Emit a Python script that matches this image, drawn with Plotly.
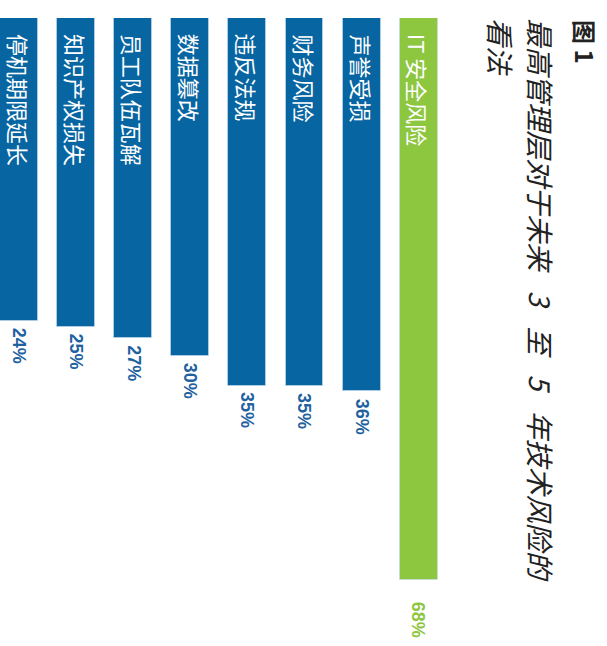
import plotly.graph_objects as go

# Data
categories = ['停机期限延长', '知识产权损失', '员工队伍瓦解', '数据篡改',
              '违反法规', '财务风险', '声誉受损', 'IT 安全风险']
values = [24, 25, 27, 30, 35, 35, 36, 68]
value_labels = ['24%', '25%', '27%', '30%', '35%', '35%', '36%', '68%']
fig_label = '图 1'
title_line1 = '最高管理层对于未来 3 至 5 年技术风险的'
title_line2 = '看法'

# Styling
BLUE = '#0765A2'
GREEN = '#8DC63F'
LABEL_BLUE = '#1F62A0'
W, H = 607, 646
TOP = 18
OFFSET = 27.5          # visual base offset of the bars (in value units)
PX_PER_UNIT = 5.88
y_bottom = -OFFSET + (H - TOP) / PX_PER_UNIT
PX_PER_CAT = 57.1
x_left = -19 / PX_PER_CAT
x_right = x_left + W / PX_PER_CAT

colors = [GREEN if c.startswith('IT') else BLUE for c in categories]
label_colors = [GREEN if c.startswith('IT') else LABEL_BLUE for c in categories]

fig = go.Figure()
fig.add_trace(go.Bar(
    x=categories,
    y=[v + OFFSET for v in values],
    base=[-OFFSET] * len(values),
    width=0.665,
    marker=dict(color=colors, line=dict(color='rgba(200,220,240,0.6)', width=1)),
    hoverinfo='skip',
    showlegend=False,
))

annotations = []
# category labels inside bars (rotated)
for c in categories:
    annotations.append(dict(
        x=c, y=-OFFSET, xref='x', yref='y', text=c, showarrow=False,
        textangle=90, xanchor='center', yanchor='top', yshift=-14,
        font=dict(family='Noto Sans CJK SC', size=22, color='white'),
    ))
# value labels below bars (rotated)
for c, v, t, col in zip(categories, values, value_labels, label_colors):
    annotations.append(dict(
        x=c, y=v, xref='x', yref='y', text=t, showarrow=False,
        textangle=90, xanchor='center', yanchor='top',
        yshift=-20 if col == GREEN else -5,
        font=dict(family='Liberation Sans', size=18, color=col, weight='bold'),
    ))

def py(p):
    return (H - p) / (H - TOP)

def wide_spaces(s):
    return s.replace(' ', '\u2002 ')

annotations.append(dict(
    x=586 / W, y=py(18), xref='paper', yref='paper', text=fig_label,
    showarrow=False, textangle=90, xanchor='center', yanchor='top',
    font=dict(family='Noto Sans CJK SC', size=24, color='#222222', weight='bold'),
))
annotations.append(dict(
    x=540 / W, y=py(16), xref='paper', yref='paper', text=wide_spaces(title_line1),
    showarrow=False, textangle=90, xanchor='center', yanchor='top',
    font=dict(family='Noto Sans CJK SC', size=28, color='#222222', style='italic'),
))
annotations.append(dict(
    x=501 / W, y=py(16), xref='paper', yref='paper', text=title_line2,
    showarrow=False, textangle=90, xanchor='center', yanchor='top',
    font=dict(family='Noto Sans CJK SC', size=28, color='#222222', style='italic'),
))

fig.update_layout(
    width=W, height=H,
    margin=dict(l=0, r=0, t=TOP, b=0, pad=0),
    paper_bgcolor='white', plot_bgcolor='white',
    xaxis=dict(range=[x_left, x_right], showticklabels=False, showgrid=False,
               zeroline=False, showline=False, ticks='', fixedrange=True),
    yaxis=dict(range=[y_bottom, -OFFSET], showticklabels=False, showgrid=False,
               zeroline=False, showline=False, ticks='', fixedrange=True),
    annotations=annotations,
    bargap=0,
)

fig.write_html('out.html',
               config={'displayModeBar': False},
               post_script="document.body.style.margin='0';document.body.style.overflow='hidden';")
